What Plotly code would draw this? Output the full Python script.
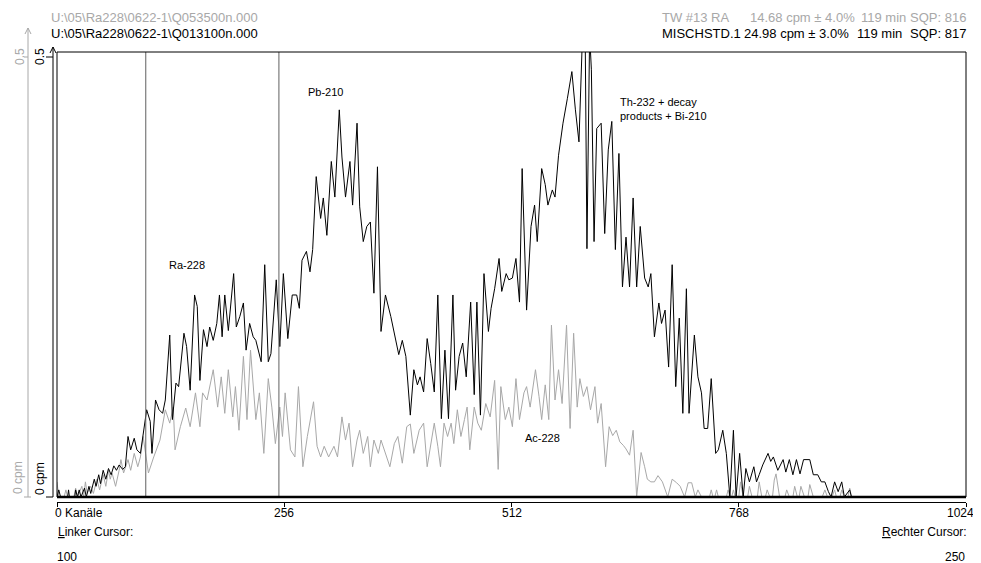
import plotly.graph_objects as go

# spectrum of MISCHSTD.1 (black) - channel / cpm pairs
black_ch = [0, 2, 4, 12, 13, 14, 20, 21, 23, 25, 27, 31, 33, 36, 38, 42, 44, 47, 49, 52,
            55, 58, 61, 64, 67, 70, 74, 77, 80, 83, 87, 90, 94, 98, 101, 105, 107, 111, 115, 119,
            122, 127, 130, 134, 137, 143, 146, 150, 155, 158, 161, 165, 169, 172, 176, 180, 183, 186, 189, 193,
            199, 202, 206, 210, 213, 217, 221, 224, 230, 234, 238, 241, 245, 247, 251, 255, 260, 265, 270, 273,
            276, 281, 285, 288, 292, 297, 300, 304, 309, 313, 318, 321, 325, 330, 333, 338, 341, 345, 349, 353,
            357, 361, 365, 370, 376, 385, 389, 393, 398, 402, 406, 409, 413, 417, 421, 425, 429, 433, 437, 441,
            446, 449, 453, 457, 461, 466, 470, 473, 477, 481, 486, 489, 493, 498, 501, 506, 509, 513, 517, 521,
            524, 529, 534, 538, 541, 546, 550, 553, 558, 561, 565, 570, 575, 580, 584, 588, 592, 595, 597, 600,
            602, 605, 608, 613, 617, 621, 625, 629, 633, 637, 641, 645, 649, 653, 657, 662, 666, 669, 673, 678,
            681, 685, 689, 693, 697, 701, 705, 709, 712, 718, 722, 726, 729, 733, 737, 742, 745, 750, 754, 758,
            762, 765, 769, 773, 776, 780, 785, 788, 791, 795, 801, 804, 807, 812, 818, 821, 825, 829, 833, 837,
            841, 848, 852, 857, 861, 865, 869, 872, 876, 880, 884, 887, 893, 895, 1024]
black_cpm = [0, 0.008, 0, 0, 0.008, 0, 0, 0.008, 0, 0.008, 0, 0.01, 0, 0.012, 0.004, 0.02, 0.012, 0.025, 0.015, 0.03,
             0.02, 0.032, 0.025, 0.035, 0.03, 0.036, 0.031, 0.034, 0.068, 0.053, 0.066, 0.053, 0.049, 0.079, 0.098, 0.085, 0.049, 0.109, 0.098, 0.094,
             0.109, 0.182, 0.087, 0.128, 0.124, 0.184, 0.169, 0.120, 0.227, 0.214, 0.131, 0.188, 0.169, 0.191, 0.176, 0.195, 0.227, 0.180, 0.227, 0.187,
             0.251, 0.191, 0.203, 0.218, 0.165, 0.195, 0.180, 0.176, 0.152, 0.261, 0.152, 0.161, 0.214, 0.244, 0.169, 0.251, 0.178, 0.227, 0.227, 0.212,
             0.266, 0.276, 0.253, 0.278, 0.360, 0.313, 0.336, 0.294, 0.377, 0.337, 0.435, 0.382, 0.337, 0.377, 0.328, 0.420, 0.326, 0.287, 0.304, 0.309,
             0.229, 0.371, 0.186, 0.227, 0.203, 0.160, 0.176, 0.158, 0.092, 0.143, 0.126, 0.135, 0.118, 0.178, 0.150, 0.118, 0.227, 0.088, 0.165, 0.088,
             0.227, 0.120, 0.158, 0.173, 0.135, 0.219, 0.115, 0.219, 0.092, 0.251, 0.186, 0.212, 0.234, 0.268, 0.231, 0.251, 0.244, 0.246, 0.268, 0.219,
             0.369, 0.210, 0.304, 0.328, 0.287, 0.369, 0.351, 0.328, 0.345, 0.337, 0.384, 0.420, 0.448, 0.478, 0.435, 0.399, 0.52, 0.52, 0.279, 0.52,
             0.48, 0.287, 0.414, 0.420, 0.296, 0.390, 0.422, 0.278, 0.386, 0.236, 0.292, 0.236, 0.336, 0.236, 0.304, 0.246, 0.236, 0.251, 0.180, 0.218,
             0.195, 0.210, 0.146, 0.261, 0.124, 0.201, 0.094, 0.234, 0.094, 0.182, 0.135, 0.117, 0.077, 0.077, 0.133, 0.049, 0.053, 0.075, 0.049, 0,
             0.075, 0, 0.049, 0, 0.032, 0.017, 0.034, 0.017, 0.025, 0.036, 0.049, 0.040, 0.045, 0.030, 0.042, 0.028, 0.042, 0.025, 0.042, 0.026,
             0.042, 0.042, 0.025, 0.025, 0.017, 0.017, 0.006, 0, 0.017, 0.006, 0.017, 0, 0.008, 0, 0]

# spectrum of TW #13 RA (grey)
gray_ch = [0, 2, 8, 10, 12, 19, 21, 23, 28, 30, 32, 34, 38, 41, 45, 48, 52, 55, 58, 60,
           62, 66, 70, 72, 75, 80, 83, 87, 91, 94, 97, 103, 109, 116, 122, 127, 131, 133, 139, 145,
           150, 156, 161, 164, 169, 173, 176, 181, 185, 189, 193, 198, 201, 205, 210, 214, 218, 224, 228, 233,
           238, 242, 246, 251, 254, 257, 263, 268, 272, 277, 282, 289, 293, 297, 301, 306, 312, 316, 321, 325,
           329, 333, 338, 341, 345, 350, 353, 357, 362, 365, 370, 375, 380, 384, 389, 394, 398, 402, 408, 413,
           417, 421, 425, 429, 432, 436, 440, 444, 447, 451, 455, 459, 462, 465, 470, 474, 478, 483, 488, 493,
           497, 500, 505, 509, 513, 517, 521, 526, 529, 533, 539, 543, 546, 550, 554, 557, 561, 565, 569, 574,
           578, 582, 586, 589, 593, 597, 601, 606, 609, 613, 618, 622, 626, 630, 634, 638, 641, 645, 649, 653,
           658, 662, 665, 669, 673, 677, 682, 688, 693, 698, 702, 707, 711, 715, 719, 722, 726, 735, 737, 739,
           741, 743, 745, 754, 756, 758, 760, 762, 764, 768, 770, 773, 778, 780, 783, 789, 791, 794, 798, 800,
           803, 806, 808, 810, 814, 820, 822, 825, 829, 831, 834, 836, 838, 842, 846, 848, 852, 862, 865, 868,
           873, 876, 878, 882, 884, 887, 891, 893, 895, 1024]
gray_cpm = [0.017, 0, 0, 0.008, 0, 0, 0.01, 0, 0.012, 0, 0.017, 0.004, 0.012, 0.004, 0.02, 0.008, 0.025, 0.012, 0.03, 0.02,
            0.027, 0.012, 0.030, 0.042, 0.027, 0.042, 0.030, 0.049, 0.034, 0.045, 0.068, 0.027, 0.045, 0.064, 0.098, 0.083, 0.101, 0.053, 0.079, 0.100,
            0.079, 0.117, 0.079, 0.117, 0.109, 0.131, 0.143, 0.101, 0.135, 0.094, 0.143, 0.090, 0.124, 0.075, 0.158, 0.087, 0.165, 0.087, 0.117, 0.049,
            0.133, 0.101, 0.060, 0.101, 0.068, 0.117, 0.053, 0.045, 0.124, 0.034, 0.068, 0.107, 0.057, 0.045, 0.057, 0.045, 0.057, 0.045, 0.090, 0.064,
            0.083, 0.034, 0.064, 0.075, 0.049, 0.068, 0.034, 0.064, 0.049, 0.064, 0.049, 0.034, 0.060, 0.068, 0.038, 0.079, 0.082, 0.049, 0.075, 0.083,
            0.034, 0.060, 0.083, 0.057, 0.034, 0.083, 0.068, 0.083, 0.060, 0.098, 0.068, 0.087, 0.101, 0.053, 0.101, 0.083, 0.075, 0.105, 0.090, 0.131,
            0.031, 0.124, 0.087, 0.101, 0.079, 0.133, 0.087, 0.117, 0.124, 0.101, 0.143, 0.113, 0.087, 0.126, 0.087, 0.193, 0.109, 0.143, 0.105, 0.193,
            0.077, 0.184, 0.101, 0.133, 0.113, 0.124, 0.098, 0.124, 0.083, 0.105, 0.034, 0.079, 0.069, 0.075, 0.062, 0.058, 0.054, 0.047, 0.075, 0,
            0.050, 0.034, 0.020, 0.017, 0.017, 0.024, 0.017, 0, 0.020, 0.016, 0.012, 0, 0.016, 0.016, 0, 0.008, 0, 0, 0.008, 0,
            0, 0.008, 0, 0, 0.008, 0, 0, 0.008, 0, 0, 0.017, 0, 0, 0.012, 0, 0, 0.017, 0, 0, 0.008,
            0, 0, 0.019, 0.026, 0, 0, 0.008, 0, 0, 0.012, 0, 0, 0.012, 0, 0, 0.014, 0, 0, 0.008, 0,
            0, 0.008, 0, 0, 0.008, 0, 0, 0.01, 0, 0]

cursors = [100, 250]
x_ticks = [0, 256, 512, 768, 1024]
x_tick_text = ['0 Kanäle', '256', '512', '768', '1024']

GRAY = '#a8a8a8'
FONT = 'Liberation Sans, Arial, sans-serif'

# the page puts the plot 8px in from the top-left corner
OFF = 8
W, H = 981 - OFF, 563 - OFF
# plot area in window pixels
L, T, R, B = 57, 52, 966, 502


def px(x):
    return (x - L) / (R - L)


def py(y):
    return (B - y) / (B - T)


def label(text, x, y, color='black', size=12, xanchor='left', angle=0):
    return dict(text=text, x=px(x), y=py(y), xref='paper', yref='paper', showarrow=False,
                xanchor=xanchor, yanchor='middle', textangle=angle,
                font=dict(family=FONT, size=size, color=color))


def seg(x0, y0, x1, y1, color='black', width=1):
    return dict(type='line', xref='paper', yref='paper', x0=px(x0), y0=py(y0), x1=px(x1), y1=py(y1),
                line=dict(color=color, width=width))


fig = go.Figure()
fig.add_trace(go.Scatter(x=gray_ch, y=gray_cpm, mode='lines', line=dict(color=GRAY, width=1),
                         name='TW #13 RA'))
fig.add_trace(go.Scatter(x=black_ch, y=black_cpm, mode='lines', line=dict(color='black', width=1),
                         name='MISCHSTD.1'))

shapes = []
for c in cursors:
    shapes.append(dict(type='line', x0=c, x1=c, y0=0, y1=0.5, xref='x', yref='y',
                       line=dict(color='#606060', width=1)))
# frame
shapes.append(dict(type='rect', x0=0, x1=1, y0=py(497), y1=1, xref='paper', yref='paper',
                   line=dict(color='black', width=1)))
shapes.append(seg(L, 497, R, 497, width=2.5))
# grey y axis with arrow
shapes += [seg(28, 497, 28, 28, GRAY), seg(25, 34, 28, 28, GRAY), seg(31, 34, 28, 28, GRAY),
           seg(24, 57, 28, 57, GRAY), seg(24, 497, 31, 497, GRAY)]
# black y axis with arrow
shapes += [seg(53, 497, 53, 47), seg(50, 53, 53, 47), seg(56, 53, 53, 47),
           seg(46, 57, 53, 57), seg(46, 497, 53, 497)]

HS = 13  # header font size
annotations = [
    label('U:\\05\\Ra228\\0622-1\\Q053500n.000', 49, 18, GRAY, HS),
    label('U:\\05\\Ra228\\0622-1\\Q013100n.000', 49, 33, size=HS),
    label('TW #13 RA', 660, 18, GRAY, HS), label('14.68 cpm ± 4.0%', 748, 18, GRAY, HS),
    label('119 min', 859, 18, GRAY, HS), label('SQP: 816', 968, 18, GRAY, HS, xanchor='right'),
    label('MISCHSTD.1', 660, 33, size=HS), label('24.98 cpm ± 3.0%', 742, 33, size=HS),
    label('119 min', 855, 33, size=HS), label('SQP: 817', 968, 33, size=HS, xanchor='right'),
    label('0.5', 20, 57, GRAY, xanchor='center', angle=-90),
    label('0 cpm', 18, 478, GRAY, xanchor='center', angle=-90),
    label('0.5', 40, 57, xanchor='center', angle=-90),
    label('0 cpm', 40, 479, xanchor='center', angle=-90),
    label('<u>L</u>inker Cursor:', 56, 532), label(str(cursors[0]), 55, 557),
    label('<u>R</u>echter Cursor:', 969, 532, xanchor='right'), label(str(cursors[1]), 967, 557, xanchor='right'),
]
for v, t in zip(x_ticks, x_tick_text):
    xp = L + v * (R - L) / 1024
    if v == 0:
        annotations.append(label(t, xp - 4, 513))
    elif v == 1024:
        annotations.append(label(t, xp + 10, 513, xanchor='right'))
    else:
        annotations.append(label(t, xp, 513, xanchor='center'))

# peak labels, in data coordinates
for text, ch, cpm, anchor in [('Ra-228', 147, 0.261, 'center'), ('Pb-210', 302, 0.455, 'center'),
                              ('Th-232 + decay<br>products + Bi-210', 632, 0.436, 'left'),
                              ('Ac-228', 547, 0.066, 'center')]:
    annotations.append(dict(text=text, x=ch, y=cpm, xref='x', yref='y', showarrow=False, align='left',
                            xanchor=anchor, yanchor='middle', font=dict(family=FONT, size=11, color='black')))

fig.update_layout(
    width=W, height=H,
    margin=dict(l=L - OFF, r=981 - R, t=T - OFF, b=563 - B),
    paper_bgcolor='white', plot_bgcolor='white',
    showlegend=False,
    xaxis=dict(range=[0, 1024], showgrid=False, zeroline=False, showline=True, linecolor='black',
               linewidth=1, ticks='outside', ticklen=4, tickcolor='black', tickvals=x_ticks,
               showticklabels=False, anchor='free', position=0),
    yaxis=dict(range=[0, 0.5], domain=[5 / (B - T), 1], visible=False),
    shapes=shapes,
    annotations=annotations,
)

fig.write_html('out.html')
